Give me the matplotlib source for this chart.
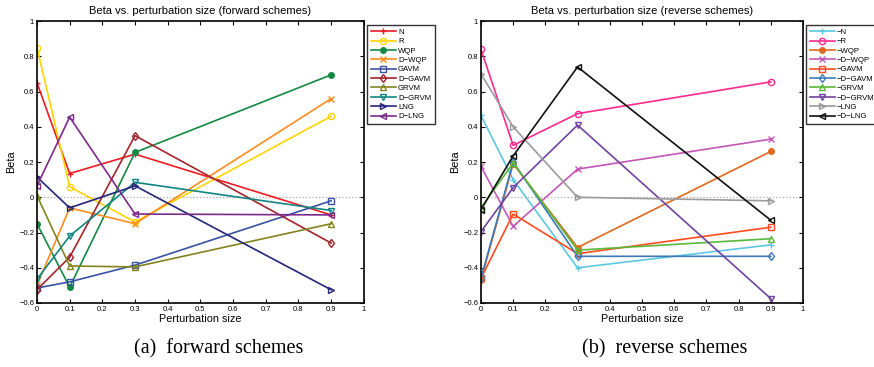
import numpy as np
import matplotlib.pyplot as plt

# perturbation sizes
sizes = [0, 0.1, 0.3, 0.9]

# forward schemes
fwd_names = ['N', 'R', 'WQP', 'D\u2212WQP', 'GAVM', 'D\u2212GAVM', 'GRVM', 'D\u2212GRVM', 'LNG', 'D\u2212LNG']
fwd_N = [0.65, 0.135, 0.245, -0.10]
fwd_R = [0.85, 0.06, -0.14, 0.46]
fwd_WQP = [-0.15, -0.51, 0.255, 0.695]
fwd_DWQP = [-0.50, -0.06, -0.15, 0.56]
fwd_GAVM = [-0.515, -0.48, -0.385, -0.02]
fwd_DGAVM = [-0.525, -0.34, 0.35, -0.26]
fwd_GRVM = [0.01, -0.39, -0.395, -0.15]
fwd_DGRVM = [-0.465, -0.22, 0.085, -0.075]
fwd_LNG = [0.115, -0.06, 0.065, -0.525]
fwd_DLNG = [0.065, 0.455, -0.095, -0.10]

# reverse schemes
rev_names = ['\u2212N', '\u2212R', '\u2212WQP', '\u2212D\u2212WQP', '\u2212GAVM', '\u2212D\u2212GAVM',
             '\u2212GRVM', '\u2212D\u2212GRVM', '\u2212LNG', '\u2212D\u2212LNG']
rev_N = [0.465, 0.10, -0.40, -0.27]
rev_R = [0.84, 0.295, 0.475, 0.655]
rev_WQP = [-0.47, 0.19, -0.285, 0.26]
rev_DWQP = [0.175, -0.165, 0.16, 0.33]
rev_GAVM = [-0.46, -0.095, -0.32, -0.17]
rev_DGAVM = [-0.46, 0.20, -0.335, -0.335]
rev_GRVM = [-0.06, 0.195, -0.30, -0.235]
rev_DGRVM = [-0.195, 0.055, 0.41, -0.575]
rev_LNG = [0.70, 0.40, 0.0, -0.02]
rev_DLNG = [-0.07, 0.235, 0.74, -0.13]

fwd_data = [fwd_N, fwd_R, fwd_WQP, fwd_DWQP, fwd_GAVM, fwd_DGAVM, fwd_GRVM, fwd_DGRVM, fwd_LNG, fwd_DLNG]
rev_data = [rev_N, rev_R, rev_WQP, rev_DWQP, rev_GAVM, rev_DGAVM, rev_GRVM, rev_DGRVM, rev_LNG, rev_DLNG]

fwd_colors = ['#ec1c24', '#ffd400', '#138a42', '#ff8c1e', '#3852a4', '#a3242a',
              '#83841f', '#0f8584', '#25257a', '#7b2a8c']
rev_colors = ['#5cc8e2', '#ff2a8e', '#e0691e', '#c257b6', '#ff4b1e', '#3d7ab8',
              '#5ab93a', '#7044a0', '#9b9b9b', '#111111']
markers = ['+', 'o', '.', 'x', 's', 'd', '^', 'v', '>', '<']

plt.rcParams['font.family'] = ['Liberation Sans', 'DejaVu Sans']

fig = plt.figure(figsize=(8.74, 3.67), dpi=100)
ax1 = fig.add_axes([0.0423, 0.1744, 0.374, 0.768])
ax2 = fig.add_axes([0.5503, 0.1744, 0.3684, 0.768])


def draw(ax, data, names, colors, title):
    ax.axhline(0, color='#aaaaaa', ls=':', lw=0.9, zorder=0)
    for vals, name, c, m in zip(data, names, colors, markers):
        ms = 8 if m == '.' else 4.5
        ax.plot(sizes, vals, color=c, marker=m, ms=ms, lw=1.2,
                mfc='none' if m not in ['.', '+', 'x'] else c, mew=1.0, label=name)
    ax.set_xlim(0, 1)
    ax.set_ylim(-0.6, 1)
    ax.set_xticks(np.arange(0, 1.01, 0.1))
    ax.set_xticklabels(['0'] + ['%g' % v for v in np.arange(0.1, 0.95, 0.1)] + ['1'])
    ax.set_yticks(np.arange(-0.6, 1.01, 0.2))
    ax.set_yticklabels(['\u22120.6', '\u22120.4', '\u22120.2', '0', '0.2', '0.4', '0.6', '0.8', '1'])
    ax.tick_params(direction='in', top=True, right=True, labelsize=5.5, length=3, pad=2)
    for s in ax.spines.values():
        s.set_linewidth(1.2)
    ax.set_xlabel('Perturbation size', fontsize=7.8, labelpad=1)
    ax.set_ylabel('Beta', fontsize=7.8, labelpad=2)
    ax.set_title(title, fontsize=8, pad=5)
    leg = ax.legend(loc='upper left', bbox_to_anchor=(1.009, 0.988), fontsize=5.6,
                    frameon=True, fancybox=False, borderaxespad=0, handlelength=3.2,
                    handletextpad=0.3, labelspacing=0.25, borderpad=0.5)
    leg.get_frame().set_edgecolor('black')
    leg.get_frame().set_linewidth(1.0)


draw(ax1, fwd_data, fwd_names, fwd_colors, 'Beta vs. perturbation size (forward schemes)')
draw(ax2, rev_data, rev_names, rev_colors, 'Beta vs. perturbation size (reverse schemes)')

fig.text(0.25, 0.05, '(a)  forward schemes', fontsize=14.5, family='Liberation Serif',
         ha='center', va='center')
fig.text(0.76, 0.05, '(b)  reverse schemes', fontsize=14.5, family='Liberation Serif',
         ha='center', va='center')

fig.savefig('out.png', dpi=100)
